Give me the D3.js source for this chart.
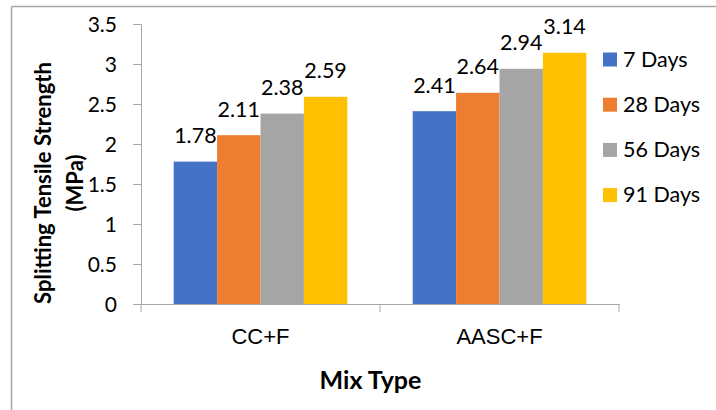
<!DOCTYPE html>
<html><head><meta charset="utf-8">
<script src="https://cdn.jsdelivr.net/npm/d3@7"></script>
<style>body{margin:0;background:#fff}svg{display:block;font-family:Lato,"Open Sans",sans-serif}</style>
</head><body><svg id="c" width="716" height="410"></svg>
<script>
const categories = ["CC+F", "AASC+F"];
const seriesNames = ["7 Days", "28 Days", "56 Days", "91 Days"];
const seriesColors = ["#4472C4", "#ED7D31", "#A5A5A5", "#FFC000"];
const values = [
  [1.78, 2.11, 2.38, 2.59],
  [2.41, 2.64, 2.94, 3.14]
];
const yTicks = [0, 0.5, 1, 1.5, 2, 2.5, 3, 3.5];

const svg = d3.select("#c");
const L = 141, R = 619, T = 24, B = 304;

// outer frame (top + left only visible)
svg.append("line").attr("x1",11.5).attr("x2",716).attr("y1",6.5).attr("y2",6.5).attr("stroke","#A6A6A6").attr("stroke-width",1.5);
svg.append("line").attr("x1",11.5).attr("x2",11.5).attr("y1",6.5).attr("y2",410).attr("stroke","#A6A6A6").attr("stroke-width",1.5);

const y = d3.scaleLinear().domain([0,3.5]).range([B,T]);
const x0 = d3.scaleBand().domain(categories).range([L,R]).padding(0);
const x1 = d3.scaleBand().domain(seriesNames).range([0, x0.bandwidth()]).paddingOuter(0.753).paddingInner(0);

// y axis
const yAxis = svg.append("g").attr("transform",`translate(${L},0)`)
  .call(d3.axisLeft(y).tickValues(yTicks).tickSize(8).tickPadding(16).tickFormat(d3.format("")));
yAxis.select(".domain").attr("stroke","#A6A6A6");
yAxis.selectAll(".tick line").attr("stroke","#A6A6A6");
yAxis.selectAll("text").attr("font-size",21).attr("fill","#000").attr("font-family","Lato").attr("dy","0.35em");

// bars
const g = svg.append("g");
categories.forEach((c,ci)=>{
  seriesNames.forEach((s,si)=>{
    const v = values[ci][si];
    g.append("rect").attr("x",x0(c)+x1(s)).attr("y",y(v)).attr("width",x1.bandwidth()).attr("height",y(0)-y(v)).attr("fill",seriesColors[si]);
    g.append("text").attr("x",x0(c)+x1(s)+x1.bandwidth()/2).attr("y",y(v)-18.5).attr("text-anchor","middle")
      .attr("font-size",21.5).attr("fill","#000").text(v.toFixed(2));
  });
});

// x axis
const xAxis = svg.append("g").attr("transform",`translate(0,${B})`)
  .call(d3.axisBottom(x0).tickSize(0).tickPadding(0).tickSizeOuter(0));
xAxis.select(".domain").attr("stroke","#A6A6A6");
xAxis.selectAll("text").attr("font-size",22).attr("fill","#000").attr("dy",null).attr("y",39.5);
[L, (L+R)/2, R].forEach(px=>{
  svg.append("line").attr("x1",px).attr("x2",px).attr("y1",B).attr("y2",B+8).attr("stroke","#A6A6A6");
});

// titles
const yt = svg.append("text").attr("transform","translate(0,183) rotate(-90)").attr("text-anchor","middle")
  .attr("font-weight","bold").attr("font-size",22).attr("fill","#000");
yt.append("tspan").attr("x",0).attr("y",51).text("Splitting Tensile Strength");
yt.append("tspan").attr("x",0).attr("y",83).text("(MPa)");
svg.append("text").attr("x",370.5).attr("y",389).attr("text-anchor","middle").attr("font-weight","bold").attr("font-size",25).attr("fill","#000").text("Mix Type");

// legend
const lg = svg.append("g");
seriesNames.forEach((s,i)=>{
  const cy = 59.5 + i*45.2;
  lg.append("rect").attr("x",603).attr("y",cy-7).attr("width",14).attr("height",14).attr("fill",seriesColors[i]);
  lg.append("text").attr("x",623).attr("y",cy+7).attr("font-size",21.5).attr("fill","#000").text(s);
});
</script></body></html>
